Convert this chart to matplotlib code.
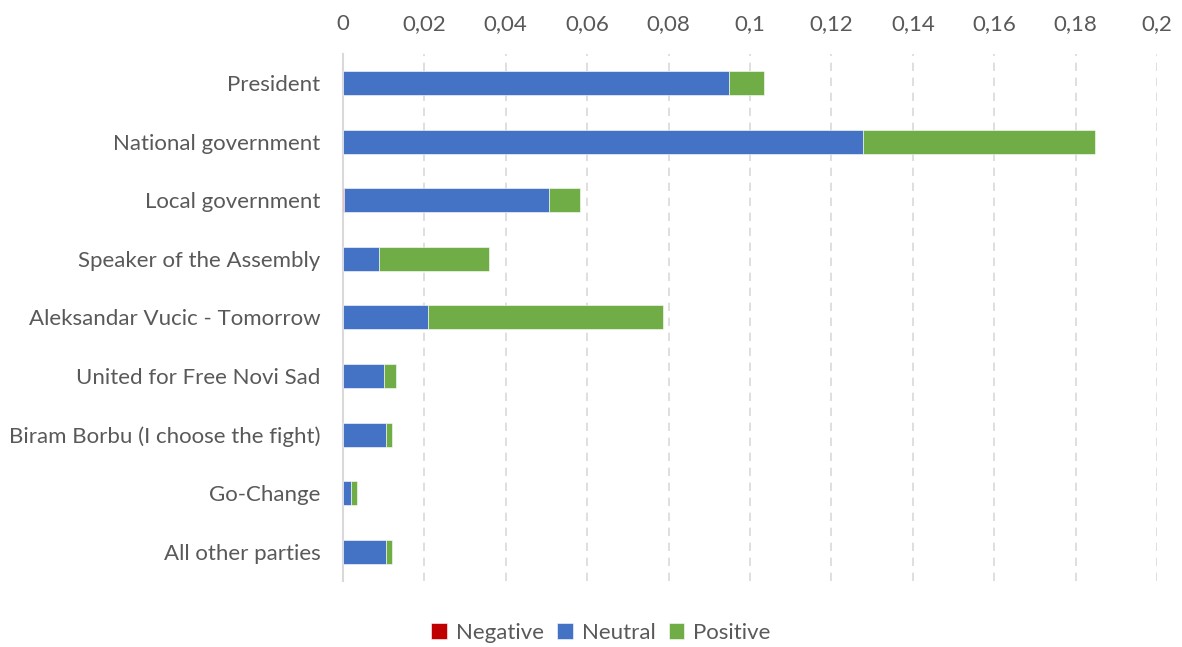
import matplotlib
matplotlib.use("Agg")
import matplotlib.pyplot as plt
from matplotlib.ticker import FuncFormatter

categories = [
    "President",
    "National government",
    "Local government",
    "Speaker of the Assembly",
    "Aleksandar Vucic - Tomorrow",
    "United for Free Novi Sad",
    "Biram Borbu (I choose the fight)",
    "Go-Change",
    "All other parties",
]
negative = [0.0, 0.0, 0.0004, 0.0, 0.0, 0.0, 0.0, 0.0, 0.0]
neutral = [0.0948, 0.1278, 0.0502, 0.0088, 0.0209, 0.0102, 0.0106, 0.0020, 0.0106]
positive = [0.0086, 0.0570, 0.0076, 0.0271, 0.0577, 0.0028, 0.0016, 0.0016, 0.0016]

colors = {"Negative": "#C00000", "Neutral": "#4472C4", "Positive": "#70AD47"}
text_color = "#595959"

plt.rcParams["font.family"] = ["Lato", "DejaVu Sans"]

fig = plt.figure(figsize=(11.82, 6.47), dpi=100)
ax = fig.add_axes([0.290, 0.102, 0.689, 0.815])

y = list(range(len(categories)))
left = [0.0] * len(categories)
for name, vals in [("Negative", negative), ("Neutral", neutral), ("Positive", positive)]:
    ax.barh(y, vals, left=left, height=0.41, color=colors[name], label=name,
            edgecolor="white", linewidth=0.4, zorder=3)
    left = [a + b for a, b in zip(left, vals)]

ax.set_xlim(0, 0.2)
ax.set_ylim(len(categories) - 0.5, -0.5)
ax.set_xticks([i * 0.02 for i in range(11)])
ax.xaxis.set_major_formatter(FuncFormatter(lambda v, p: ("%g" % round(v, 2)).replace(".", ",")))
ax.xaxis.tick_top()
ax.set_yticks(y)
ax.set_yticklabels(categories)
ax.tick_params(axis="both", length=0, labelsize=16, colors=text_color)
ax.tick_params(axis="x", pad=14)
ax.tick_params(axis="y", pad=16)

ax.grid(axis="x", color="#D9D9D9", linestyle=(0, (5, 4)), linewidth=1.2, zorder=0)
for s in ["top", "right", "bottom"]:
    ax.spines[s].set_visible(False)
ax.spines["left"].set_color("#D9D9D9")
ax.spines["left"].set_linewidth(1.5)

leg = fig.legend(loc="center", bbox_to_anchor=(0.5085, 1 - 633 / 647), ncol=3, frameon=False,
                 fontsize=16, handlelength=0.7, handleheight=0.7, handletextpad=0.4,
                 columnspacing=0.6)
for t in leg.get_texts():
    t.set_color(text_color)

fig.savefig("out.png", dpi=100)
